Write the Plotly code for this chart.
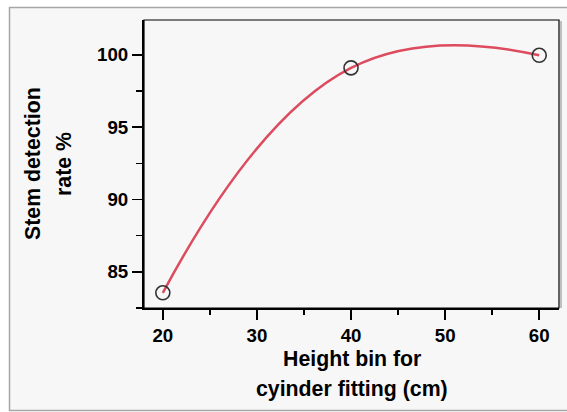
import plotly.graph_objects as go

# ---- data ----
height_bin_cm = [20, 40, 60]
stem_detection_rate = [83.55, 99.1, 99.97]
x_tick_vals = [20, 30, 40, 50, 60]
y_tick_vals = [85, 90, 95, 100]

W, H = 567, 412
L, R, T, B = 144, 8, 20, 104
PW, PH = W - L - R, H - T - B


def px(x):
    return (x - L) / PW


def py(y):
    return (H - B - y) / PH


font_family = "Liberation Sans, Arial, sans-serif"
tick_font = dict(family=font_family, size=18.7, color="#000", weight="bold")
title_font = dict(family=font_family, size=21.3, color="#000", weight="bold")

fig = go.Figure()
fig.add_trace(go.Scatter(
    x=height_bin_cm,
    y=stem_detection_rate,
    mode="lines+markers",
    line=dict(color="#dc4b5e", width=2.5, shape="spline", smoothing=1.3),
    marker=dict(symbol="circle-open", size=14, color="#333333", line=dict(width=1.6)),
    showlegend=False,
    cliponaxis=False,
    hoverinfo="skip",
))

axis_common = dict(
    showgrid=False, zeroline=False,
    showline=True, linecolor="#000", linewidth=2,
    ticks="outside", ticklen=10, tickwidth=1.5, tickcolor="#000",
    tickfont=tick_font,
)

fig.update_xaxes(
    range=[18.0, 62.1], tickvals=x_tick_vals, ticktext=[str(v) for v in x_tick_vals],
    minor=dict(ticks="outside", ticklen=5, tickwidth=1.5, tickcolor="#000", dtick=5, tick0=0, showgrid=False),
    **axis_common,
)
fig.update_yaxes(
    range=[82.5, 102.41], tickvals=y_tick_vals, ticktext=[str(v) for v in y_tick_vals],
    minor=dict(ticks="outside", ticklen=6, tickwidth=1.5, tickcolor="#000", dtick=2.5, tick0=0, showgrid=False),
    **axis_common,
)

shapes = [
    # outer frame
    dict(type="rect", xref="paper", yref="paper", layer="below",
         x0=px(9.5), x1=px(575), y0=py(410.5), y1=py(7.5),
         fillcolor="#f7f7f7", line=dict(color="#a6a6a6", width=1.5)),
    # plot box (top/right)
    dict(type="rect", xref="paper", yref="paper", layer="above",
         x0=0, x1=1, y0=0, y1=1, line=dict(color="#000", width=1.2)),
    # shadow on right edge
    dict(type="line", xref="paper", yref="paper", layer="above",
         x0=px(561), x1=px(561), y0=py(308), y1=py(21), line=dict(color="#9a9a9a", width=1.2)),
    # bottom axis extension to the left
    dict(type="line", xref="paper", yref="paper", layer="above",
         x0=px(139), x1=0, y0=0, y1=0, line=dict(color="#000", width=2)),
]

annotations = [
    dict(text="Height bin for", x=px(351.5), y=py(359), xref="paper", yref="paper",
         xanchor="center", yanchor="middle", showarrow=False, font=title_font),
    dict(text="cyinder fitting (cm)", x=px(351.5), y=py(389), xref="paper", yref="paper",
         xanchor="center", yanchor="middle", showarrow=False, font=title_font),
    dict(text="Stem detection", x=px(33), y=py(164), xref="paper", yref="paper",
         xanchor="center", yanchor="middle", showarrow=False, textangle=-90, font=title_font),
    dict(text="rate %", x=px(64), y=py(164), xref="paper", yref="paper",
         xanchor="center", yanchor="middle", showarrow=False, textangle=-90, font=title_font),
]

fig.update_layout(
    width=W, height=H,
    margin=dict(l=L, r=R, t=T, b=B, pad=0),
    paper_bgcolor="#ffffff",
    plot_bgcolor="#ffffff",
    shapes=shapes,
    annotations=annotations,
    hovermode=False,
)

fig.write_html(
    "out.html",
    config={"displayModeBar": False, "staticPlot": True},
    post_script="document.body.style.margin='0';document.body.style.overflow='hidden';",
)
